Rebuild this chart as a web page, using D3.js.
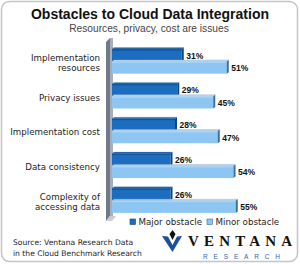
<!DOCTYPE html>
<html>
<head>
<meta charset="utf-8">
<script src="https://cdn.jsdelivr.net/npm/d3@7"></script>
<style>
  body { margin: 0; background: #fff; }
  svg { display: block; }
</style>
</head>
<body>
<div id="chart"></div>
<script>
// donnees du graphique
const categories = ["Implementation resources", "Privacy issues", "Implementation cost",
                    "Data consistency", "Complexity of accessing data"];
const labelLines = [["Implementation", "resources"], ["Privacy issues"], ["Implementation cost"],
                    ["Data consistency"], ["Complexity of", "accessing data"]];
const seriesNames = ["Major obstacle", "Minor obstacle"];
const majorValues = [31, 29, 28, 26, 26];
const minorValues = [51, 45, 47, 54, 55];

const W = 300, H = 264;
const colors = {
  "Major obstacle": { front: "#1c6dbf", top: "#0e579f", side: "#0a4683" },
  "Minor obstacle": { front: "#8dc6f3", top: "#b9dcf8", side: "#3a6d9c" }
};

const svg = d3.select("#chart").append("svg")
  .attr("width", W)
  .attr("height", H);

// cadre arrondi
svg.append("rect")
  .attr("x", 1.5).attr("y", 1.5)
  .attr("width", 296).attr("height", 260)
  .attr("rx", 8)
  .attr("fill", "#fff")
  .attr("stroke", "#c4c4c4")
  .attr("stroke-width", 1.5);

// titres
svg.append("text")
  .attr("x", 150).attr("y", 19)
  .attr("text-anchor", "middle")
  .attr("font-family", "Liberation Sans")
  .attr("font-weight", "bold")
  .attr("font-size", 14)
  .attr("fill", "#111")
  .text("Obstacles to Cloud Data Integration");

svg.append("text")
  .attr("x", 149).attr("y", 31.5)
  .attr("text-anchor", "middle")
  .attr("font-family", "Liberation Sans")
  .attr("font-size", 10.2)
  .attr("fill", "#444")
  .text("Resources, privacy, cost are issues");

// echelles
const x = d3.scaleLinear().domain([0, 100]).range([112, 337]);
const y = d3.scaleBand().domain(categories).range([44, 218])
  .paddingInner(0.28).paddingOuter(0.14);
const y1 = d3.scaleBand().domain(seriesNames).range([0, y.bandwidth()]).padding(0.02);

// mur gris 3D
const wall = svg.append("g");
wall.append("polygon")
  .attr("points", [[106, 42], [110, 38], [110, 216], [106, 221]].join(" "))
  .attr("fill", "#6f7988");
wall.append("polygon")
  .attr("points", [[110, 38], [113, 38], [113, 216], [110, 216]].join(" "))
  .attr("fill", "#a6aeb9");
wall.append("polygon")
  .attr("points", [[106, 221], [110, 216], [116, 216], [112, 221]].join(" "))
  .attr("fill", "#c9cdd3");

// barres
const rows = categories.map((c, i) => ({
  cat: c,
  vals: [
    { s: seriesNames[0], v: majorValues[i] },
    { s: seriesNames[1], v: minorValues[i] }
  ]
}));

const group = svg.selectAll(".grp").data(rows).enter().append("g")
  .attr("class", "grp")
  .attr("transform", d => "translate(0," + y(d.cat) + ")");

const bar = group.selectAll(".bar").data(d => d.vals).enter().append("g")
  .attr("class", "bar");

// face superieure
bar.append("polygon")
  .attr("points", d => {
    const y0 = y1(d.s);
    return [[x(0), y0], [x(0) + 2, y0 - 1.5], [x(d.v) + 2, y0 - 1.5], [x(d.v), y0]].join(" ");
  })
  .attr("fill", d => colors[d.s].top)
  .attr("stroke", "#9aa3ad")
  .attr("stroke-width", 0.4);

// face avant
bar.append("rect")
  .attr("x", x(0))
  .attr("y", d => y1(d.s))
  .attr("width", d => x(d.v) - x(0))
  .attr("height", y1.bandwidth())
  .attr("fill", d => colors[d.s].front);

bar.append("rect")
  .attr("x", x(0))
  .attr("y", d => y1(d.s))
  .attr("width", d => x(d.v) - x(0))
  .attr("height", 1.5)
  .attr("fill", d => colors[d.s].top)
  .attr("opacity", d => d.s === seriesNames[0] ? 1 : 0.6);

// face droite
bar.append("polygon")
  .attr("points", d => {
    const y0 = y1(d.s), h = y1.bandwidth();
    return [[x(d.v), y0], [x(d.v) + 2, y0 - 1.5], [x(d.v) + 2, y0 + h - 1.5], [x(d.v), y0 + h]].join(" ");
  })
  .attr("fill", d => colors[d.s].side);

// valeurs
bar.append("text")
  .attr("x", d => x(d.v) + 4.5)
  .attr("y", d => y1(d.s) + y1.bandwidth() / 2 + 3.5)
  .attr("font-family", "Liberation Sans")
  .attr("font-weight", "bold")
  .attr("font-size", 8.5)
  .attr("fill", "#111")
  .text(d => d.v + "%");

// etiquettes des categories
group.each(function(d, i) {
  const lines = labelLines[i];
  const cy = y.bandwidth() / 2 + 1.5;
  const t = d3.select(this).append("text")
    .attr("text-anchor", "end")
    .attr("font-family", "DejaVu Sans")
    .attr("font-size", 8.7)
    .attr("fill", "#222");
  lines.forEach((l, k) => {
    t.append("tspan")
      .attr("x", 100)
      .attr("y", cy + 3 + (k - (lines.length - 1) / 2) * 10.5)
      .text(l);
  });
});

// legende
const legendX = [130, 207];
const legend = svg.selectAll(".leg").data(seriesNames).enter().append("g")
  .attr("class", "leg")
  .attr("transform", (d, i) => "translate(" + legendX[i] + ",219)");
legend.append("rect")
  .attr("width", 5.5).attr("height", 5.5)
  .attr("fill", d => colors[d].front)
  .attr("stroke", d => colors[d].side)
  .attr("stroke-width", 0.6);
legend.append("text")
  .attr("x", 8.5).attr("y", 6)
  .attr("font-family", "DejaVu Sans")
  .attr("font-size", 8.7)
  .attr("fill", "#222")
  .text(d => d);

// source
const src = svg.append("text")
  .attr("font-family", "DejaVu Sans")
  .attr("font-size", 7.6)
  .attr("fill", "#222");
src.append("tspan").attr("x", 13).attr("y", 244.5).text("Source: Ventana Research Data");
src.append("tspan").attr("x", 13).attr("y", 255.5).text("in the Cloud Benchmark Research");

// logo Ventana
const logo = svg.append("g");
logo.append("polygon")
  .attr("points", [[162, 236], [168, 236.5], [172.5, 245], [177, 236.5], [182, 236], [172.5, 252]].join(" "))
  .attr("fill", "#1d4f9a");
logo.append("polygon")
  .attr("points", [[172.5, 230], [175.5, 234], [172.5, 240], [169.5, 234]].join(" "))
  .attr("fill", "#111");
logo.append("text")
  .attr("x", 188).attr("y", 246)
  .attr("font-family", "Liberation Serif")
  .attr("font-weight", "bold")
  .attr("font-size", 15)
  .attr("textLength", 104)
  .attr("lengthAdjust", "spacing")
  .attr("fill", "#111")
  .text("VENTANA");
logo.append("text")
  .attr("x", 203).attr("y", 258.5)
  .attr("font-family", "Liberation Sans")
  .attr("font-size", 6.5)
  .attr("textLength", 77)
  .attr("lengthAdjust", "spacing")
  .attr("fill", "#2f66b0")
  .text("RESEARCH");
</script>
</body>
</html>
